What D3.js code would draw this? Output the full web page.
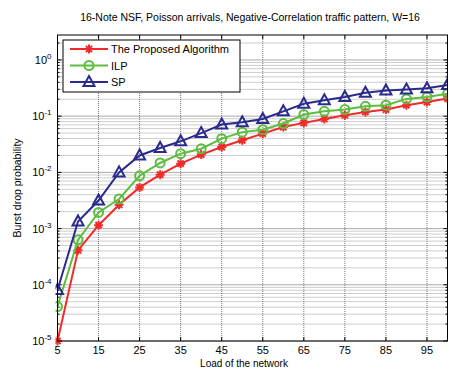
<!DOCTYPE html>
<html>
<head>
<meta charset="utf-8">
<script src="https://cdn.jsdelivr.net/npm/d3@7"></script>
<style>
  body { margin: 0; background: #fff; }
  svg { font-family: "Liberation Sans", Arial, sans-serif; }
</style>
</head>
<body>
<div id="chart"></div>
<script>
// data
const loads = [5, 10, 15, 20, 25, 30, 35, 40, 45, 50, 55, 60, 65, 70, 75, 80, 85, 90, 95, 100];
const proposed = [1e-5, 4.1e-4, 1.15e-3, 2.65e-3, 5.4e-3, 9.1e-3, 1.43e-2, 2.07e-2, 2.82e-2, 3.72e-2, 4.9e-2, 6.4e-2, 7.6e-2, 8.9e-2, 0.104, 0.119, 0.131, 0.157, 0.178, 0.206];
const ilp = [4.1e-5, 6.3e-4, 1.94e-3, 3.36e-3, 8.7e-3, 1.47e-2, 2.15e-2, 2.63e-2, 3.98e-2, 5.2e-2, 5.75e-2, 7.4e-2, 0.107, 0.122, 0.131, 0.15, 0.157, 0.203, 0.22, 0.25];
const sp = [8.1e-5, 1.34e-3, 3.16e-3, 1e-2, 2e-2, 2.72e-2, 3.57e-2, 5.0e-2, 7.1e-2, 7.8e-2, 8.9e-2, 0.122, 0.166, 0.192, 0.22, 0.26, 0.286, 0.298, 0.314, 0.36];
const seriesNames = ['The Proposed Algorithm', 'ILP', 'SP'];
const xTicks = [5, 15, 25, 35, 45, 55, 65, 75, 85, 95];
const yDecades = [-5, -4, -3, -2, -1, 0];
const title = '16-Note NSF, Poisson arrivals, Negative-Correlation traffic pattern, W=16';

const W = 449, H = 370;
const m = { top: 35, right: 1.5, bottom: 29, left: 57.5 };
const w = W - m.left - m.right, h = H - m.top - m.bottom;

const svg = d3.select('#chart').append('svg').attr('width', W).attr('height', H);
const g = svg.append('g').attr('transform', `translate(${m.left},${m.top})`);

const x = d3.scaleLinear().domain([5, 100]).range([0, w]);
const y = d3.scaleLog().domain([1e-5, 2.78]).range([h, 0]);

// grid
const minorVals = [];
yDecades.forEach(k => { for (let i = 2; i <= 9; i++) { const v = i * Math.pow(10, k); if (v < 2.78) minorVals.push(v); } });
const majorVals = yDecades.map(k => Math.pow(10, k));

g.append('g').selectAll('line').data(minorVals).join('line')
  .attr('x1', 0).attr('x2', w).attr('y1', d => y(d)).attr('y2', d => y(d))
  .attr('stroke', '#9a9a9a').attr('stroke-width', 1).attr('stroke-dasharray', '1,1');
g.append('g').selectAll('line').data(majorVals).join('line')
  .attr('x1', 0).attr('x2', w).attr('y1', d => y(d)).attr('y2', d => y(d))
  .attr('stroke', '#555').attr('stroke-width', 1).attr('stroke-dasharray', '1,1');
g.append('g').selectAll('line').data(xTicks).join('line')
  .attr('x1', d => x(d)).attr('x2', d => x(d)).attr('y1', 0).attr('y2', h)
  .attr('stroke', '#777').attr('stroke-width', 1).attr('stroke-dasharray', '1,1');

// ticks (inward, all four sides)
const tk = g.append('g').attr('stroke', '#000').attr('stroke-width', 1);
xTicks.forEach(t => {
  tk.append('line').attr('x1', x(t)).attr('x2', x(t)).attr('y1', h).attr('y2', h - 4);
  tk.append('line').attr('x1', x(t)).attr('x2', x(t)).attr('y1', 0).attr('y2', 4);
});
majorVals.forEach(v => {
  tk.append('line').attr('x1', 0).attr('x2', 4).attr('y1', y(v)).attr('y2', y(v));
  tk.append('line').attr('x1', w).attr('x2', w - 4).attr('y1', y(v)).attr('y2', y(v));
});
minorVals.forEach(v => {
  tk.append('line').attr('x1', 0).attr('x2', 2).attr('y1', y(v)).attr('y2', y(v));
  tk.append('line').attr('x1', w).attr('x2', w - 2).attr('y1', y(v)).attr('y2', y(v));
});

// tick labels
g.append('g').selectAll('text').data(xTicks).join('text')
  .attr('x', d => x(d)).attr('y', h + 13).attr('text-anchor', 'middle')
  .attr('font-size', 11).attr('fill', '#000').text(d => d);
const yl = g.append('g').selectAll('text').data(yDecades).join('text')
  .attr('x', -6).attr('y', d => y(Math.pow(10, d)) + 4).attr('text-anchor', 'end')
  .attr('font-size', 11).attr('fill', '#000');
yl.append('tspan').text('10');
yl.append('tspan').attr('dy', -5).attr('font-size', 8).text(d => d);

// series
const colors = ['#ef2b2b', '#5cbd3e', '#2b2b8e'];
const allSeries = [proposed, ilp, sp];
svg.append('clipPath').attr('id', 'clip').append('rect')
  .attr('x', -2).attr('y', -2).attr('width', w + 2).attr('height', h + 8);
const plot = g.append('g').attr('clip-path', 'url(#clip)');
const line = d3.line().x((d, i) => x(loads[i])).y(d => y(d));

function marker(sel, type, color) {
  if (type === 0) {
    const r = 4.5;
    sel.append('path').attr('d', `M0,${-r}V${r}M${-r},0H${r}M${-r*0.7},${-r*0.7}L${r*0.7},${r*0.7}M${-r*0.7},${r*0.7}L${r*0.7},${-r*0.7}`)
      .attr('stroke', color).attr('stroke-width', 2).attr('fill', 'none');
  } else if (type === 1) {
    sel.append('circle').attr('r', 4.5).attr('stroke', color).attr('stroke-width', 2).attr('fill', 'none');
  } else {
    sel.append('path').attr('d', 'M0,-6L5.5,4L-5.5,4Z').attr('stroke', color).attr('stroke-width', 2).attr('fill', 'none');
  }
}

allSeries.forEach((s, k) => {
  plot.append('path').datum(s).attr('d', line).attr('fill', 'none')
    .attr('stroke', colors[k]).attr('stroke-width', 2);
  s.forEach((v, i) => {
    const mg = plot.append('g').attr('transform', `translate(${x(loads[i])},${y(v)})`);
    marker(mg, k, colors[k]);
  });
});

// frame
g.append('rect').attr('width', w).attr('height', h).attr('fill', 'none').attr('stroke', '#000').attr('stroke-width', 1);

// legend
const lg = svg.append('g').attr('transform', 'translate(63,40)');
lg.append('rect').attr('width', 177).attr('height', 52).attr('fill', '#fff').attr('stroke', '#000').attr('stroke-width', 1);
seriesNames.forEach((name, k) => {
  const yy = 9 + k * 16.5;
  lg.append('line').attr('x1', 7).attr('x2', 45).attr('y1', yy).attr('y2', yy)
    .attr('stroke', colors[k]).attr('stroke-width', 2);
  marker(lg.append('g').attr('transform', `translate(26,${yy})`), k, colors[k]);
  lg.append('text').attr('x', 48).attr('y', yy + 4).attr('font-size', 11).attr('fill', '#000').text(name);
});

// titles
svg.append('text').attr('x', 250).attr('y', 21).attr('text-anchor', 'middle')
  .attr('font-size', 10.5).attr('fill', '#000').text(title);
svg.append('text').attr('x', 244).attr('y', 367).attr('text-anchor', 'middle')
  .attr('font-size', 10).attr('fill', '#000').text('Load of the network');
svg.append('text').attr('transform', `translate(21,${m.top + h / 2}) rotate(-90)`).attr('text-anchor', 'middle')
  .attr('font-size', 10.5).attr('fill', '#000').text('Burst drop probability');
</script>
</body>
</html>
